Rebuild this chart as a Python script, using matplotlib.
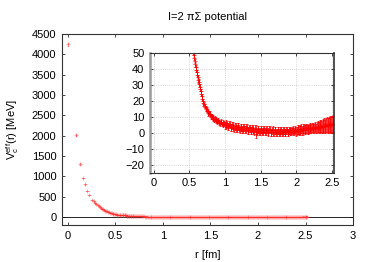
import numpy as np
import matplotlib
matplotlib.use("Agg")
import matplotlib.pyplot as plt

plt.rcParams['font.family'] = ['Liberation Sans', 'DejaVu Sans']
plt.rcParams['mathtext.fontset'] = 'custom'
plt.rcParams['mathtext.rm'] = 'Liberation Sans'

# short distance part of the potential, r [fm], V [MeV]
r_near = [0.000, 0.091, 0.128, 0.157, 0.181, 0.203, 0.222, 0.257, 0.272, 0.287,
          0.301, 0.314, 0.327, 0.339, 0.351, 0.362, 0.373, 0.384, 0.395, 0.405,
          0.415, 0.425, 0.434, 0.444, 0.453, 0.462, 0.471, 0.480, 0.488, 0.497,
          0.505, 0.513, 0.521, 0.529, 0.537, 0.545, 0.553, 0.561, 0.568, 0.576,
          0.583, 0.591, 0.598, 0.605, 0.612, 0.620, 0.627, 0.634, 0.641, 0.648,
          0.655, 0.661, 0.668, 0.675, 0.682, 0.690]
v_near = [4250, 2020, 1300, 960, 800, 640, 540, 420, 380, 345,
          310, 285, 262, 240, 220, 202, 186, 172, 158, 146,
          134, 123, 113, 104, 96, 88, 81, 75, 69, 63,
          60, 57, 55.5, 54, 52.5, 51.5, 50.5, 49, 47, 45,
          43, 41, 39.5, 38, 36.5, 35, 33, 32, 30.5, 29,
          27.5, 26, 24.5, 23, 21.5, 20]
e_near = [40, 25, 15, 10, 8, 6, 5, 4, 4, 3,
          3, 3, 3, 2.5, 2.5, 2, 2, 2, 2, 2,
          2, 2, 1.8, 1.8, 1.8, 1.6, 1.6, 1.6, 1.5, 1.5,
          1.5, 1.5, 1.5, 1.5, 1.5, 1.5, 1.5, 1.5, 1.5, 1.5,
          1.5, 1.5, 1.5, 1.5, 1.5, 1.5, 1.5, 1.5, 1.5, 1.5,
          1.5, 1.5, 1.5, 1.5, 1.5, 1.5]

# long distance part, two families of lattice points
r_far = [0.70, 0.72, 0.74, 0.76, 0.78, 0.80, 0.82, 0.84, 0.86, 0.88,
         0.90, 0.92, 0.94, 0.96, 0.98, 1.00, 1.02, 1.04, 1.06, 1.08,
         1.10, 1.12, 1.14, 1.16, 1.18, 1.20, 1.22, 1.24, 1.26, 1.28,
         1.30, 1.32, 1.34, 1.36, 1.38, 1.40, 1.42, 1.44, 1.46, 1.48,
         1.50, 1.52, 1.54, 1.56, 1.58, 1.60, 1.62, 1.64, 1.66, 1.68,
         1.70, 1.72, 1.74, 1.76, 1.78, 1.80, 1.82, 1.84, 1.86, 1.88,
         1.90, 1.92, 1.94, 1.96, 1.98, 2.00, 2.02, 2.04, 2.06, 2.08,
         2.10, 2.12, 2.14, 2.16, 2.18, 2.20, 2.22, 2.24, 2.26, 2.28,
         2.30, 2.32, 2.34, 2.36, 2.38, 2.40, 2.42, 2.44, 2.46, 2.48,
         2.50, 2.52]
v_far = [18.5, 16.8, 15.0, 13.2, 12.4, 10.6, 10.1, 8.8, 8.9, 7.6,
         7.9, 6.4, 7.0, 5.6, 6.3, 4.8, 5.6, 4.2, 5.1, 3.6,
         4.6, 3.1, 4.2, 2.8, 4.0, 2.5, 3.6, 2.2, 3.4, 2.0,
         3.2, 1.7, 2.9, 1.5, 2.8, 1.3, 2.6, -0.8, 2.4, 1.0,
         2.3, 0.9, 2.1, 0.7, 2.0, 0.6, 1.9, 0.5, 1.7, 0.4,
         1.6, 0.3, 1.5, 0.2, 1.5, 0.2, 1.4, 0.3, 1.4, 0.4,
         1.5, 0.6, 1.6, 0.8, 1.8, 1.0, 2.0, 1.3, 2.3, 1.6,
         2.5, 1.9, 2.8, 2.2, 3.0, 2.5, 3.2, 2.8, 3.5, 3.0,
         3.8, 3.3, 4.2, 3.7, 4.6, 4.1, 5.0, 4.5, 5.3, 4.9,
         5.6, 5.2]
e_far = [1.5, 1.5, 1.5, 1.5, 1.5, 1.5, 1.5, 1.5, 1.5, 1.5,
         1.5, 1.5, 1.5, 1.5, 1.5, 2.2, 2.2, 2.2, 2.2, 2.2,
         2.2, 2.2, 2.2, 2.2, 2.2, 2.2, 2.2, 2.2, 2.2, 2.2,
         2.2, 2.2, 2.2, 2.2, 2.2, 2.2, 2.2, 2.2, 2.2, 2.2,
         2.2, 2.2, 2.2, 2.2, 2.2, 2.2, 2.2, 2.2, 2.2, 2.2,
         2.2, 2.2, 2.2, 2.2, 2.2, 2.2, 2.2, 2.2, 2.2, 2.2,
         2.2, 2.2, 2.2, 2.2, 2.2, 2.8, 2.8, 2.8, 2.8, 2.8,
         2.8, 2.8, 2.8, 2.8, 2.8, 2.8, 2.8, 2.8, 2.8, 2.8,
         3.2, 3.4, 3.6, 3.8, 4.0, 4.2, 4.4, 4.6, 4.8, 5.0,
         5.2, 5.4]

r_far2 = [0.71, 0.73, 0.75, 0.77, 0.79, 0.81, 0.83, 0.85, 0.87, 0.89,
          0.91, 0.93, 0.95, 0.97, 0.99, 1.01, 1.03, 1.05, 1.07, 1.09,
          1.11, 1.13, 1.15, 1.17, 1.19, 1.21, 1.23, 1.25, 1.27, 1.29,
          1.31, 1.33, 1.35, 1.37, 1.39, 1.41, 1.43, 1.45, 1.47, 1.49,
          1.51, 1.53, 1.55, 1.57, 1.59, 1.61, 1.63, 1.65, 1.67, 1.69,
          1.71, 1.73, 1.75, 1.77, 1.79, 1.81, 1.83, 1.85, 1.87, 1.89,
          1.91, 1.93, 1.95, 1.97, 1.99, 2.01, 2.03, 2.05, 2.07, 2.09,
          2.11, 2.13, 2.15, 2.17, 2.19, 2.21, 2.23, 2.25, 2.27, 2.29,
          2.31, 2.33, 2.35, 2.37, 2.39, 2.41, 2.43, 2.45, 2.47, 2.49,
          2.51]
v_far2 = [17.9, 15.5, 14.6, 12.3, 11.9, 9.9, 9.8, 8.3, 8.6, 7.2,
          7.5, 6.1, 6.8, 5.2, 6.0, 4.6, 5.4, 3.9, 5.0, 3.5,
          4.5, 3.0, 4.2, 2.7, 3.8, 2.4, 3.5, 2.0, 3.3, 1.9,
          3.1, 1.6, 2.9, 1.3, 2.7, 1.1, 2.6, 0.9, 2.4, 0.8,
          2.3, 0.7, 2.2, 0.6, 2.1, 0.5, 2.0, 0.4, 1.9, 0.3,
          1.8, 0.3, 1.8, 0.2, 1.7, 0.3, 1.7, 0.4, 1.7, 0.5,
          1.8, 0.7, 1.9, 0.9, 2.1, 1.2, 2.3, 1.5, 2.6, 1.8,
          2.8, 2.1, 3.0, 2.4, 3.3, 2.7, 3.5, 3.0, 3.8, 3.3,
          4.1, 3.6, 4.4, 4.0, 4.8, 4.3, 5.1, 4.7, 5.5, 5.0,
          5.8]
e_far2 = [1.5, 1.5, 1.5, 1.5, 1.5, 1.5, 1.5, 1.5, 1.5, 1.5,
          1.5, 1.5, 1.5, 1.5, 1.5, 2.2, 2.2, 2.2, 2.2, 2.2,
          2.2, 2.2, 2.2, 2.2, 2.2, 2.2, 2.2, 2.2, 2.2, 2.2,
          2.2, 2.2, 2.2, 2.2, 2.2, 2.2, 2.2, 2.2, 2.2, 2.2,
          2.2, 2.2, 2.2, 2.2, 2.2, 2.2, 2.2, 2.2, 2.2, 2.2,
          2.2, 2.2, 2.2, 2.2, 2.2, 2.2, 2.2, 2.2, 2.2, 2.2,
          2.2, 2.2, 2.2, 2.2, 2.2, 2.8, 2.8, 2.8, 2.8, 2.8,
          2.8, 2.8, 2.8, 2.8, 2.8, 2.8, 2.8, 2.8, 2.8, 3.3,
          3.5, 3.7, 3.9, 4.1, 4.3, 4.5, 4.7, 4.9, 5.1, 5.3,
          5.5]

r = np.array(r_near + r_far + r_far2)
v = np.array(v_near + v_far + v_far2)
e = np.array(e_near + e_far + e_far2)

fs = 8
fig = plt.figure(figsize=(3.74, 2.62), dpi=100)

ax = fig.add_axes([0.166, 0.141, 0.778, 0.729])
ax.axhline(0, color='black', lw=0.6, zorder=1)
ax.errorbar(r, v, yerr=e, fmt='+', color='#ff3030', ms=2.5, mew=0.5,
            elinewidth=0.4, capsize=0.8, alpha=0.6, zorder=2)
ax.set_xlim(-0.06, 3)
ax.set_ylim(-200, 4500)
ax.set_xticks(np.arange(0, 3.01, 0.5))
ax.set_xticklabels(['0', '0.5', '1', '1.5', '2', '2.5', '3'])
ax.set_yticks(np.arange(0, 4501, 500))
ax.tick_params(direction='in', top=True, right=True, labelsize=fs,
               length=2.5, width=0.5, pad=4)
for s in ax.spines.values():
    s.set_linewidth(0.8)
    s.set_color('#333333')
ax.set_xlabel('r [fm]', fontsize=fs, labelpad=7)
ax.set_ylabel(r'V$_{\rm c}^{\rm eff}$(r) [MeV]', fontsize=fs, labelpad=8)
ax.set_title('I=2 πΣ potential', fontsize=fs, pad=10)

# inset zoomed on the attractive tail
ins = fig.add_axes([0.401, 0.340, 0.492, 0.458])
ins.errorbar(r, v, yerr=e, fmt='+', color='red', ms=3.5, mew=0.6,
             elinewidth=0.7, capsize=1, alpha=0.8, zorder=2)
ins.set_xlim(-0.05, 2.53)
ins.set_ylim(-25, 50)
ins.set_xticks(np.arange(0, 2.51, 0.5))
ins.set_xticklabels(['0', '0.5', '1', '1.5', '2', '2.5'])
ins.set_yticks(np.arange(-20, 51, 10))
ins.grid(True, ls=':', lw=0.5, color='#bbbbbb')
ins.tick_params(direction='in', top=True, right=True, labelsize=fs,
                length=2.5, width=0.5, pad=4)
for s in ins.spines.values():
    s.set_linewidth(0.8)
    s.set_color('#333333')
ins.spines['left'].set_color('#999999')
ins.spines['left'].set_linewidth(1.8)
ins.spines['right'].set_linewidth(1.2)

fig.savefig('out.png', dpi=100)
